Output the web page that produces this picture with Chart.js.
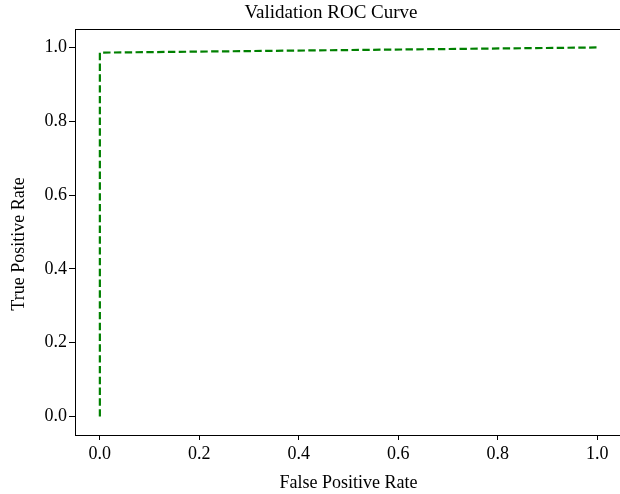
<!DOCTYPE html>
<html>
<head>
<meta charset="utf-8">
<script src="https://cdn.jsdelivr.net/npm/chart.js@4/dist/chart.umd.min.js"></script>
<style>
  body { margin: 0; background: #fff; overflow: hidden; }
  #wrap { width: 620px; height: 494px; overflow: hidden; }
  #wrap div { width: 630px; height: 494px; }
</style>
</head>
<body>
<div id="wrap"><div><canvas id="grafico" width="630" height="494"></canvas></div></div>
<script>
// dados da curva ROC
var fpr = [0.0, 0.0, 1.0];
var tpr = [0.0, 0.986, 1.0];
var tickValues = [0.0, 0.2, 0.4, 0.6, 0.8, 1.0];

var fonte = 'Liberation Serif, Times New Roman, serif';

// moldura, titulo e rotulo do eixo y no estilo matplotlib
var moldura = {
    id: 'moldura',
    afterDraw: function (chart) {
        var c = chart.ctx, a = chart.chartArea;
        c.save();
        c.strokeStyle = '#000';
        c.lineWidth = 1;
        c.strokeRect(a.left + 0.5, a.top + 0.5, a.right - a.left, a.bottom - a.top);
        c.fillStyle = '#000';
        c.textAlign = 'center';
        c.textBaseline = 'middle';
        c.font = '19px ' + fonte;
        c.fillText('Validation ROC Curve', 331, 13);
        c.translate(19, 244);
        c.rotate(-Math.PI / 2);
        c.font = '18px ' + fonte;
        c.fillText('True Positive Rate', 0, 0);
        c.restore();
    }
};

var pontos = fpr.map(function (x, i) { return { x: x, y: tpr[i] }; });

var ticksFixos = function (scale) {
    scale.ticks = tickValues.map(function (v) { return { value: v }; });
};

var ctx = document.querySelector('#grafico').getContext('2d');
var rocChart = new Chart(ctx, {
    type: 'line',
    data: {
        datasets: [{
            data: pontos,
            borderColor: 'green',
            borderWidth: 2.2,
            borderDash: [7.4, 3.4],
            pointRadius: 0,
            fill: false,
            tension: 0
        }]
    },
    options: {
        responsive: false,
        animation: false,
        layout: { padding: { top: 29, right: 8, left: 0, bottom: 0 } },
        plugins: { legend: { display: false }, tooltip: { enabled: false } },
        scales: {
            x: {
                type: 'linear',
                min: -0.05,
                max: 1.05,
                afterBuildTicks: ticksFixos,
                afterFit: function (s) { s.height = 59; },
                grid: { drawOnChartArea: false, color: '#000', tickLength: 5 },
                border: { display: false },
                ticks: {
                    color: '#000',
                    font: { family: fonte, size: 18 },
                    padding: 3,
                    maxRotation: 0,
                    callback: function (v) { return v.toFixed(1); }
                },
                title: {
                    display: true,
                    text: 'False Positive Rate',
                    color: '#000',
                    font: { family: fonte, size: 18 },
                    padding: { top: 0, bottom: 0 }
                }
            },
            y: {
                type: 'linear',
                min: -0.05,
                max: 1.05,
                afterBuildTicks: ticksFixos,
                afterFit: function (s) { s.width = 75; },
                grid: { drawOnChartArea: false, color: '#000', tickLength: 6 },
                border: { display: false },
                ticks: {
                    color: '#000',
                    font: { family: fonte, size: 18 },
                    padding: 2,
                    callback: function (v) { return v.toFixed(1); }
                }
            }
        }
    },
    plugins: [moldura]
});
</script>
</body>
</html>
